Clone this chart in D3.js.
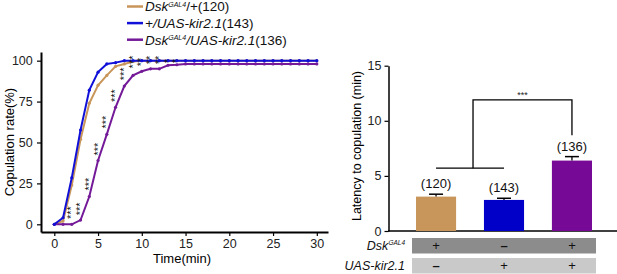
<!DOCTYPE html>
<html><head><meta charset="utf-8">
<script src="https://cdn.jsdelivr.net/npm/d3@7"></script>
<style>body{margin:0;background:#fff}svg{display:block;font-family:"Liberation Sans",Arial,sans-serif}</style>
</head><body><svg id="c" width="617" height="274"></svg>
<script>
// ---- data ----
const time = d3.range(0, 31);
const dskPlus = [0,2,24,52,74,85,91,96.5,98,99.5,100,100,100,100,100,100,100,100,100,100,100,100,100,100,100,100,100,100,100,100,100];
const plusKir = [0,4,28.5,57.6,82,93,98,98.8,100,100,100,100,100,100,100,100,100,100,100,100,100,100,100,100,100,100,100,100,100,100,100];
const dskKir  = [0,0,0,2.6,17,39,55,71.5,84.5,91,93.5,95,95,97.2,97.5,98,98,98,98,98,98,98,98,98,98,98,98,98,98,98,98];
const starT = [1.5,2.5,3.5,4.5,5.5,6.5,7.5,8.5,9.5,10.5,11.5,12.5,13.5];
const starY = [7.2,9.4,24.6,46,62.5,78.7,91.9,99.2,99.2,100.4,100.4,99.8,99.8];
const starN = ["***","***","***","***","***","***","***","***","**","**","**","*","*"];
const xTicks = [0,5,10,15,20,25,30];
const yTicks = [0,25,50,75,100];
const legendNames = [["Dsk","GAL4","/+(120)"],["+/UAS-kir2.1","","(143)"],["Dsk","GAL4","/UAS-kir2.1(136)"]];
const lineColors = ["#C8965A","#1010D8","#741A98"];
const barGroups = ["Dsk/+","+/UAS","Dsk/UAS"];
const barMeans = [3.12,2.82,6.39];
const barErr = [0.22,0.15,0.36];
const barN = ["(120)","(143)","(136)"];
const barColors = ["#C8955A","#0000C8","#760A96"];
const latTicks = [0,5,10,15];
const rowDsk = ["+","–","+"];
const rowKir = ["–","+","+"];

const svg = d3.select("#c");
// ---- left chart ----
const x = d3.scaleLinear().domain([-1.52,31.28]).range([41,328]);
const y = d3.scaleLinear().domain([-4.7,105.3]).range([232,52]);
const gx = svg.append("g").attr("transform","translate(0,232)")
  .call(d3.axisBottom(x).tickValues(xTicks).tickSize(4).tickSizeOuter(0));
const gy = svg.append("g").attr("transform","translate(41,0)")
  .call(d3.axisLeft(y).tickValues(yTicks).tickSize(4).tickSizeOuter(0));
[gx,gy].forEach(g=>{g.select(".domain").attr("stroke","#000").attr("stroke-width",2);
  g.selectAll(".tick line").attr("stroke","#000").attr("stroke-width",1.2);
  g.selectAll("text").attr("font-size",12.5).attr("fill","#222").attr("font-family","Liberation Sans, Arial");});
gy.selectAll("text").attr("dx","-0.1em");
svg.append("text").attr("x",182).attr("y",262.5).attr("text-anchor","middle").attr("font-size",13).text("Time(min)");
svg.append("text").attr("transform","translate(14,142) rotate(-90)").attr("text-anchor","middle").attr("font-size",13).text("Copulation rate(%)");

const series = [dskPlus, plusKir, dskKir];
const line = d3.line().x((d,i)=>x(time[i])).y(d=>y(d));
[0,2,1].forEach(k=>{
  svg.append("path").datum(series[k]).attr("d",line).attr("fill","none")
    .attr("stroke",lineColors[k]).attr("stroke-width",2);
  svg.append("g").selectAll("circle").data(series[k]).join("circle")
    .attr("cx",(d,i)=>x(time[i])).attr("cy",d=>y(d)).attr("r",1.6).attr("fill",lineColors[k]);
});
svg.append("g").selectAll("text").data(starT).join("text")
  .attr("transform",(d,i)=>`translate(${x(d)},${y(starY[i])}) rotate(-90)`)
  .attr("text-anchor","middle").attr("dy","0.72em").attr("font-size",11).attr("fill","#111")
  .text((d,i)=>starN[i]);

// legend
const lg = svg.append("g");
legendNames.forEach((nm,i)=>{
  const yy = 6.5 + i*16.6;
  lg.append("line").attr("x1",127).attr("x2",143).attr("y1",yy).attr("y2",yy)
    .attr("stroke",lineColors[i]).attr("stroke-width",2.5);
  const t = lg.append("text").attr("x",145).attr("y",yy+4.8).attr("font-size",13.5).attr("fill","#111");
  if(nm[1]){
    t.append("tspan").attr("font-style","italic").text(nm[0]);
    t.append("tspan").attr("font-style","italic").attr("font-size",7).attr("dy",-4.5).text(nm[1]);
    const rest = nm[2];
    const m = rest.match(/^(\/UAS-kir2\.1)?(.*)$/);
    if(m[1]){ t.append("tspan").attr("font-style","italic").attr("dy",4.5).text(m[1]); t.append("tspan").text(m[2]); }
    else { t.append("tspan").attr("dy",4.5).text(rest); }
  } else {
    t.append("tspan").attr("font-style","italic").text(nm[0]);
    t.append("tspan").text(nm[2]);
  }
});

// ---- right chart ----
const xb = d3.scaleBand().domain(barGroups).range([402,606]).paddingInner(0.41).paddingOuter(0.206);
const yb = d3.scaleLinear().domain([0,15]).range([231,65.7]);
const gyb = svg.append("g").attr("transform","translate(388.5,0)")
  .call(d3.axisLeft(yb).tickValues(latTicks).tickSize(4).tickSizeOuter(0));
gyb.select(".domain").attr("stroke","#000").attr("stroke-width",1.5);
gyb.selectAll(".tick line").attr("stroke","#000").attr("stroke-width",1.2);
gyb.selectAll("text").attr("font-size",12.5).attr("fill","#222").attr("font-family","Liberation Sans, Arial");
svg.append("line").attr("x1",388).attr("x2",617).attr("y1",yb(0)).attr("y2",yb(0)).attr("stroke","#000").attr("stroke-width",1.5);
svg.append("text").attr("transform","translate(361,146) rotate(-90)").attr("text-anchor","middle").attr("font-size",12.5).text("Latency to copulation (min)");

const bw = xb.bandwidth();
barGroups.forEach((g,i)=>{
  const cx = xb(g)+bw/2;
  svg.append("rect").attr("x",xb(g)).attr("width",bw).attr("y",yb(barMeans[i])).attr("height",yb(0)-yb(barMeans[i])).attr("fill",barColors[i]);
  const top = yb(barMeans[i]+barErr[i]);
  svg.append("line").attr("x1",cx).attr("x2",cx).attr("y1",yb(barMeans[i])).attr("y2",top).attr("stroke","#000").attr("stroke-width",1.3);
  svg.append("line").attr("x1",cx-7).attr("x2",cx+7).attr("y1",top).attr("y2",top).attr("stroke","#000").attr("stroke-width",1.5);
  svg.append("text").attr("x",cx).attr("y",top-6).attr("text-anchor","middle").attr("font-size",13).attr("fill","#111").text(barN[i]);
});
// significance bracket
const c0 = xb(barGroups[0])+bw/2, c1 = xb(barGroups[1])+bw/2, c2 = xb(barGroups[2])+bw/2;
const mid = (c0+c1)/2 + 3;
svg.append("path").attr("d",`M${c0},${yb(5.7)}H${c1}`).attr("stroke","#000").attr("stroke-width",1.3).attr("fill","none");
svg.append("path").attr("d",`M${mid},${yb(5.7)}V${yb(11.9)}H${c2}V${yb(8.7)}`).attr("stroke","#000").attr("stroke-width",1.3).attr("fill","none");
svg.append("text").attr("x",(mid+c2)/2).attr("y",yb(11.9)-2).attr("text-anchor","middle").attr("font-size",9).attr("fill","#222").text("***");

// genotype table
const rows = [{lab:["Dsk","GAL4"],vals:rowDsk,fill:"#8C8C8C",y:238},{lab:["UAS-kir2.1",""],vals:rowKir,fill:"#C9C9C9",y:258}];
rows.forEach(r=>{
  svg.append("rect").attr("x",412).attr("width",184).attr("y",r.y).attr("height",15.5).attr("fill",r.fill);
  const t = svg.append("text").attr("x",405).attr("y",r.y+12).attr("text-anchor","end").attr("font-size",12.5).attr("font-style","italic").attr("fill","#111");
  if(r.lab[1]){ t.append("tspan").text(r.lab[0]); t.append("tspan").attr("font-size",6.5).attr("dy",-5).text(r.lab[1]); }
  else t.text(r.lab[0]);
  barGroups.forEach((g,i)=>{
    svg.append("text").attr("x",xb(g)+bw/2).attr("y",r.y+12).attr("text-anchor","middle").attr("font-size",13).attr("font-weight",r.vals[i]==="–"?"bold":"normal").attr("fill","#111").text(r.vals[i]);
  });
});
</script></body></html>
